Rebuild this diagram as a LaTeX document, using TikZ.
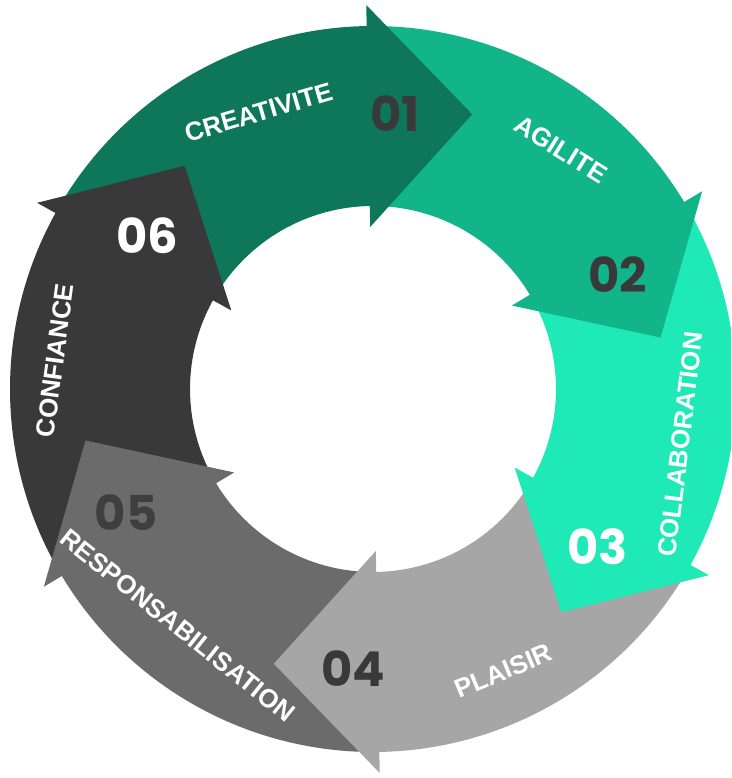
\documentclass[tikz,border=0pt]{standalone}
\usepackage{fontspec}
\setmainfont{Liberation Sans}
\newfontfamily\numfont{Poppins}
\definecolor{seg1}{HTML}{0E775A}
\definecolor{seg2}{HTML}{12B48A}
\definecolor{seg3}{HTML}{1FE9B7}
\definecolor{seg4}{HTML}{A6A6A6}
\definecolor{seg5}{HTML}{6B6B6B}
\definecolor{seg6}{HTML}{393939}
\definecolor{numdark}{HTML}{393939}
\definecolor{numfive}{HTML}{3F3F3F}
\begin{document}
\begin{tikzpicture}[x=1pt,y=1pt,
  lbl/.style={text=white, font=\bfseries\fontsize{26}{26}\selectfont, inner sep=0pt},
  num/.style={font=\numfont\bfseries\fontsize{48}{48}\selectfont, inner sep=0pt},
]
\def\Ro{363}\def\Ri{183}
\useasboundingbox (-373,-389) rectangle (358,389);
\clip (-373,-389) rectangle (358,389);
% ring segments, each one running clockwise up to its arrow head;
% both ends sit a little inside the neighbouring heads so no seam shows
\foreach \b/\c in {91/seg1, 31/seg2, -29/seg3, -89/seg4, -149/seg5, -209/seg6}{
  \fill[\c] ({\b+59}:\Ro) arc[start angle={\b+59}, end angle={\b-1}, radius=\Ro]
    -- ({\b-1}:\Ri) arc[start angle={\b-1}, end angle={\b+59}, radius=\Ri] -- cycle;
}
% arrow heads, laid over the start of the following segment
% (a thin strip behind each base overlaps its own segment)
\foreach \b/\c in {91/seg1, 31/seg2, -29/seg3, -89/seg4, -149/seg5, -209/seg6}{
  \fill[\c] ({\b+0.6}:362.5) -- (\b:362.5) -- (\b:384) -- ({\b-20.85}:292.1)
    -- (\b:162) -- (\b:183.5) -- ({\b+0.6}:183.5) -- cycle;
}
% step labels
\node[lbl, rotate=16.3]  (creativite) at (-114.5,276.5) {CREATIVITE};
\node[lbl, rotate=-32]   (agilite)    at (188,239.5)    {AGILITE};
\node[lbl, rotate=83]    (collab)     at (307.5,-55.5)  {COLLABORATION};
\node[lbl, rotate=22.6]  (plaisir)    at (130.5,-282)   {PLAISIR};
\node[lbl, rotate=-38.6] (respons)    at (-195.5,-236.5){RESPONSABILISATION};
\node[lbl, rotate=82.3]  (confiance)  at (-318,28.5)    {CONFIANCE};
% step numbers
\node[num, text=numdark] (n1) at (22,275.5)     {01};
\node[num, text=numdark] (n2) at (244.5,114)    {02};
\node[num, text=white]   (n3) at (224.5,-157.5) {03};
\node[num, text=numdark] (n4) at (-20,-279.5)   {04};
\node[num, text=numfive] (n5) at (-247,-123.5)  {05};
\node[num, text=white]   (n6) at (-225.5,153.5) {06};
\end{tikzpicture}
\end{document}
